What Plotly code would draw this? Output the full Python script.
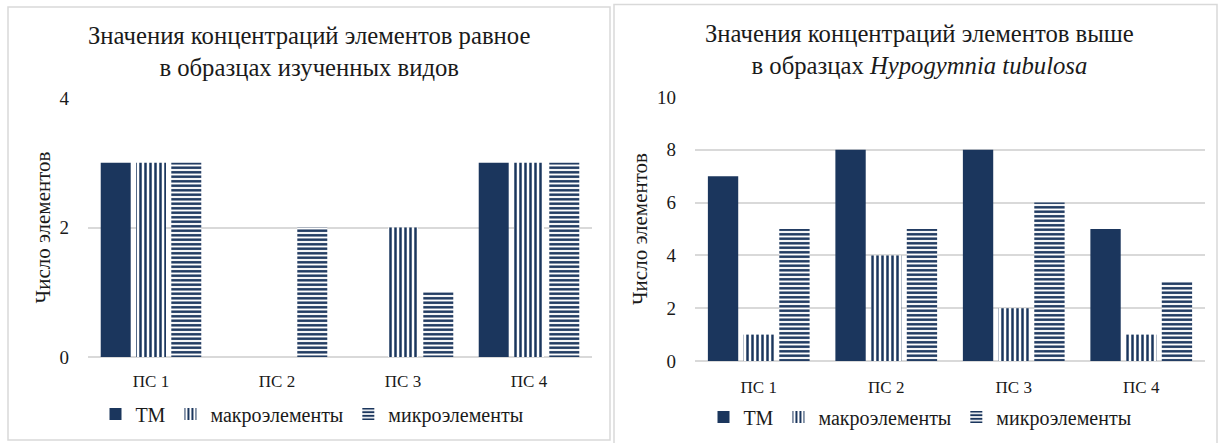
import plotly.graph_objects as go

categories = ["ПС 1", "ПС 2", "ПС 3", "ПС 4"]
series_names = ["ТМ", "макроэлементы", "микроэлементы"]

left_tm = [3, 0, 0, 3]
left_macro = [3, 0, 2, 3]
left_micro = [3, 2, 1, 3]

right_tm = [7, 8, 8, 5]
right_macro = [1, 4, 2, 1]
right_micro = [5, 5, 6, 3]

left_ticks = [0, 2, 4]
right_ticks = [0, 2, 4, 6, 8, 10]

NAVY = "#1b365d"
GRID = "#d9d9d9"
FONT = "Liberation Serif"
TXT = "#1a1a1a"
W, H = 1220, 443

fig = go.Figure()

def add_series(vals, name, xa, ya, legend, kind):
    if kind == "solid":
        marker = dict(color=NAVY, line=dict(width=0))
    elif kind == "vert":
        marker = dict(color="white", line=dict(width=0),
                      pattern=dict(shape="|", fgcolor=NAVY, bgcolor="white", fgopacity=1,
                                   size=5, solidity=0.5, fillmode="overlay"))
    else:
        marker = dict(color="white", line=dict(width=0),
                      pattern=dict(shape="-", fgcolor=NAVY, bgcolor="white", fgopacity=1,
                                   size=4.5, solidity=0.55, fillmode="overlay"))
    fig.add_trace(go.Bar(x=categories, y=vals, name=name, xaxis=xa, yaxis=ya,
                         marker=marker, legend=legend, hoverinfo="y+name"))

for vals, name, kind in zip([left_tm, left_macro, left_micro], series_names, ["solid", "vert", "horiz"]):
    add_series(vals, name, "x", "y", "legend", kind)
for vals, name, kind in zip([right_tm, right_macro, right_micro], series_names, ["solid", "vert", "horiz"]):
    add_series(vals, name, "x2", "y2", "legend2", kind)

def px(x):
    return x / W

def py(y):
    return 1 - y / H

ytick_font = dict(family=FONT, size=19, color=TXT)
xtick_font = dict(family=FONT, size=17, color=TXT)
ytitle_font = dict(family=FONT, size=21, color=TXT)
legend_font = dict(family=FONT, size=20, color=TXT)

fig.update_layout(
    width=W, height=H,
    margin=dict(l=0, r=0, t=0, b=0, autoexpand=False),
    paper_bgcolor="white", plot_bgcolor="white",
    barmode="group", bargap=0.16, bargroupgap=0.15,
    font=dict(family=FONT, color=TXT),
    xaxis=dict(domain=[px(88), px(592)], anchor="y", tickfont=xtick_font,
               showgrid=False, showline=False, ticks="", automargin=False,
               ticklabelstandoff=12),
    yaxis=dict(domain=[py(357), py(98)], anchor="x", range=[0, 4],
               tickvals=left_ticks, tickfont=ytick_font, automargin=False,
               showgrid=True, gridcolor=GRID, gridwidth=1.5,
               zeroline=True, zerolinecolor=GRID, zerolinewidth=1.5,
               ticks="", ticklabelstandoff=18,
               title=dict(text="Число элементов", font=ytitle_font, standoff=3)),
    xaxis2=dict(domain=[px(695), px(1205)], anchor="y2", tickfont=xtick_font,
                showgrid=False, showline=False, ticks="", automargin=False,
                ticklabelstandoff=14),
    yaxis2=dict(domain=[py(361), py(97)], anchor="x2", range=[0, 10],
                tickvals=right_ticks, tickfont=ytick_font, automargin=False,
                showgrid=True, gridcolor=GRID, gridwidth=1.5,
                zeroline=True, zerolinecolor=GRID, zerolinewidth=1.5,
                ticks="", ticklabelstandoff=18,
                title=dict(text="Число элементов", font=ytitle_font, standoff=3)),
    legend=dict(orientation="h", x=px(312), y=py(414), xanchor="center", yanchor="middle",
                font=legend_font, itemwidth=30,
                bgcolor="rgba(0,0,0,0)", traceorder="normal"),
    legend2=dict(orientation="h", x=px(920), y=py(417), xanchor="center", yanchor="middle",
                 font=legend_font, itemwidth=30,
                 bgcolor="rgba(0,0,0,0)", traceorder="normal"),
    showlegend=True,
)

# Panel borders
fig.add_shape(type="rect", xref="paper", yref="paper",
              x0=px(8), x1=px(610), y0=py(440), y1=py(7),
              line=dict(color=GRID, width=1.5), fillcolor="rgba(0,0,0,0)", layer="below")
fig.add_shape(type="rect", xref="paper", yref="paper",
              x0=px(614), x1=px(1217), y0=py(447), y1=py(4.5),
              line=dict(color=GRID, width=1.5), fillcolor="rgba(0,0,0,0)", layer="below")

title_font = dict(family=FONT, size=24.7, color=TXT)
fig.add_annotation(text="Значения концентраций элементов равное<br>в образцах изученных видов",
                   xref="paper", yref="paper", x=px(309), y=py(51.5), xanchor="center", yanchor="middle",
                   showarrow=False, font=title_font, align="center")
fig.add_annotation(text="Значения концентраций элементов выше<br>в образцах <i>Hypogymnia tubulosa</i>",
                   xref="paper", yref="paper", x=px(920), y=py(49.5), xanchor="center", yanchor="middle",
                   showarrow=False, font=title_font, align="center")

fig.write_html("out.html", config={"displayModeBar": False},
               post_script="document.body.style.margin='0px';")
